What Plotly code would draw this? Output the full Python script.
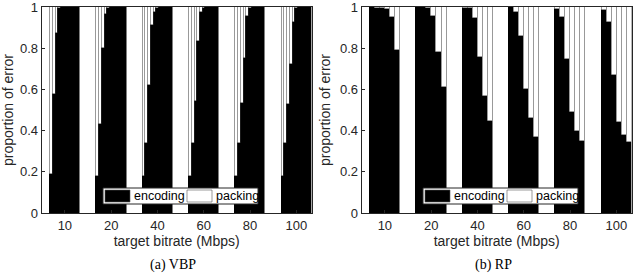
import plotly.graph_objects as go

bitrates = ["10", "20", "40", "60", "80", "100"]

# encoding share per bar (packing = 1 - encoding), bars left to right in each group
vbp_encoding = [
    [0.19, 0.58, 0.875, 0.995, 1.0, 1.0, 1.0, 1.0, 1.0, 1.0, 1.0],
    [0.18, 0.43, 0.80, 0.965, 0.995, 1.0, 1.0, 1.0, 1.0, 1.0, 1.0],
    [0.18, 0.34, 0.62, 0.915, 0.975, 0.995, 1.0, 1.0, 1.0, 1.0, 1.0],
    [0.18, 0.34, 0.545, 0.835, 0.975, 0.995, 1.0, 1.0, 1.0, 1.0, 1.0],
    [0.18, 0.34, 0.535, 0.755, 0.955, 0.995, 1.0, 1.0, 1.0, 1.0, 1.0],
    [0.18, 0.34, 0.53, 0.725, 0.93, 0.995, 1.0, 1.0, 1.0, 1.0, 1.0],
]
rp_encoding = [
    [1.0, 0.998, 0.997, 0.99, 0.95, 0.79],
    [1.0, 1.0, 0.997, 0.955, 0.78, 0.61],
    [0.998, 0.995, 0.945, 0.76, 0.57, 0.445],
    [1.0, 0.975, 0.86, 0.60, 0.46, 0.37],
    [0.99, 0.95, 0.75, 0.49, 0.40, 0.35],
    [0.985, 0.93, 0.67, 0.44, 0.38, 0.345],
]
y_ticks = [0, 0.2, 0.4, 0.6, 0.8, 1]
y_ticktext = ["0", "0.2", "0.4", "0.6", "0.8", "1"]
captions = ["(a) VBP", "(b) RP"]

GW = 0.65
AXC = "#262626"
FONT = "Liberation Sans"

fig = go.Figure()

def add_panel(data, xa, ya):
    xs, ws, enc, pack = [], [], [], []
    for gi, bars in enumerate(data):
        n = len(bars)
        w = GW / n
        for j, v in enumerate(bars):
            xs.append(gi + 1 - GW / 2 + (j + 0.5) * w)
            ws.append(w)
            enc.append(v)
            pack.append(1 - v)
    fig.add_trace(go.Bar(x=xs, y=enc, width=ws, marker=dict(color="black", line=dict(color="black", width=0.5)),
                         xaxis=xa, yaxis=ya, showlegend=False, name="encoding"))
    fig.add_trace(go.Bar(x=xs, y=pack, width=ws, marker=dict(color="white", line=dict(color="#333333", width=0.5)),
                         xaxis=xa, yaxis=ya, showlegend=False, name="packing"))

add_panel(vbp_encoding, "x", "y")
add_panel(rp_encoding, "x2", "y2")

doms = [(41.7 / 640, 311.7 / 640), (361.7 / 640, 631.7 / 640)]
ydom = ((280 - 213) / 280, (280 - 7) / 280)

axis_common = dict(showline=True, linecolor=AXC, linewidth=1, mirror=True, ticks="inside",
                   ticklen=3, tickcolor=AXC, showgrid=False, zeroline=False, automargin=False,
                   ticklabeloverflow="allow",
                   tickfont=dict(family=FONT, size=13, color=AXC))
for k, (xa, ya) in enumerate([("xaxis", "yaxis"), ("xaxis2", "yaxis2")]):
    fig.layout[xa] = dict(domain=doms[k], range=[0.5, 6.33], tickvals=list(range(1, 7)), ticktext=bitrates,
                          anchor="y" if k == 0 else "y2",
                          title=dict(text="target bitrate (Mbps)", font=dict(family=FONT, size=14, color=AXC), standoff=4),
                          **axis_common)
    fig.layout[ya] = dict(domain=ydom, range=[0, 1.0005], tickvals=y_ticks, ticktext=y_ticktext,
                          anchor="x" if k == 0 else "x2",
                          title=dict(text="proportion of error", font=dict(family=FONT, size=14, color=AXC), standoff=6),
                          **axis_common)

# captions
for k, cap in enumerate(captions):
    fig.add_annotation(text=cap, x=(doms[k][0] + doms[k][1]) / 2 - 0.005, y=(280 - 265) / 280, xref="paper", yref="paper",
                       xanchor="center", yanchor="middle",
                       showarrow=False, font=dict(family="Liberation Serif", size=14, color="black"))

# manual legends
for k in range(2):
    off = 320 * k
    def px(x):
        return (x + off) / 640
    def py(y):
        return (280 - y) / 280
    fig.add_shape(type="rect", xref="paper", yref="paper", x0=px(103), x1=px(258), y0=py(204), y1=py(188),
                  line=dict(color=AXC, width=1), fillcolor="white")
    fig.add_shape(type="rect", xref="paper", yref="paper", x0=px(105), x1=px(130), y0=py(202), y1=py(190),
                  line=dict(color="#555555", width=0.6), fillcolor="black")
    fig.add_shape(type="rect", xref="paper", yref="paper", x0=px(187), x1=px(212), y0=py(202), y1=py(190),
                  line=dict(color="#555555", width=0.6), fillcolor="white")
    fig.add_annotation(text="encoding", x=px(132), y=py(196), xref="paper", yref="paper", xanchor="left",
                       yanchor="middle", showarrow=False, font=dict(family=FONT, size=12.5, color="black"))
    fig.add_annotation(text="packing", x=px(214), y=py(196), xref="paper", yref="paper", xanchor="left",
                       yanchor="middle", showarrow=False, font=dict(family=FONT, size=12.5, color="black"))

fig.update_layout(width=640, height=280, margin=dict(l=0, r=0, t=0, b=0), barmode="stack", bargap=0,
                  plot_bgcolor="white", paper_bgcolor="white")
fig.write_html("out.html", config={"displayModeBar": False},
               post_script="document.body.style.margin='0';document.body.style.padding='0';")
